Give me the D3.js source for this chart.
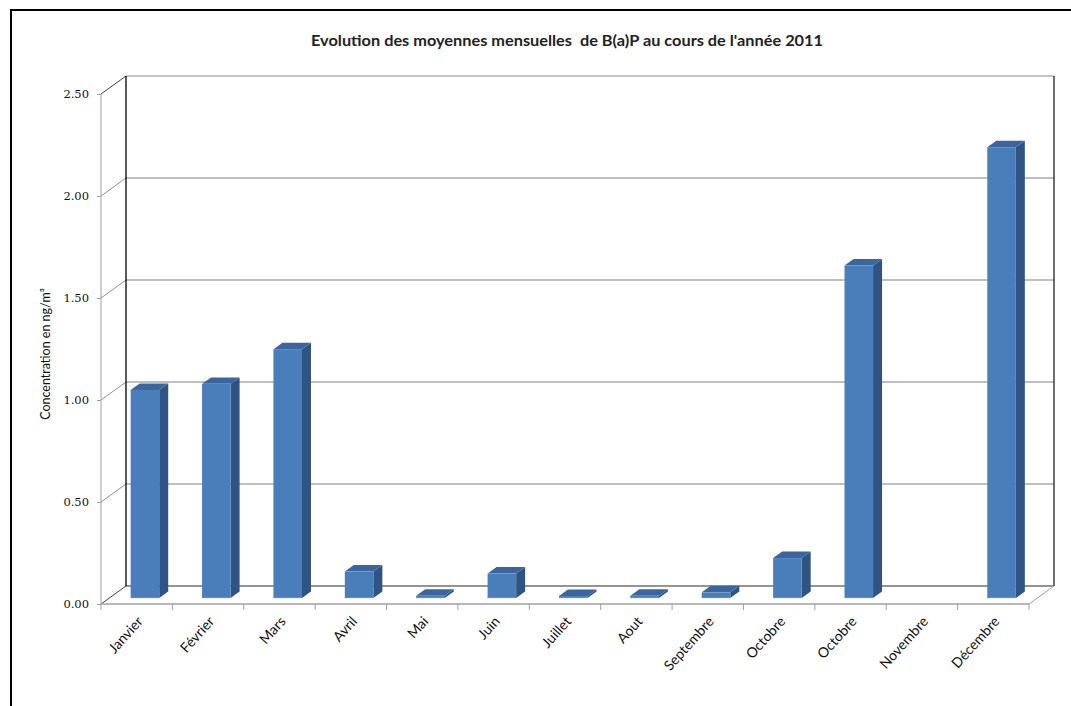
<!DOCTYPE html>
<html>
<head>
<meta charset="utf-8">
<script src="https://cdn.jsdelivr.net/npm/d3@7"></script>
<style>
  body { margin: 0; background: #fff; }
  svg { display: block; }
</style>
</head>
<body>
<svg id="chart" width="1071" height="706"></svg>
<script>
// ---- data ----
const categories = ["Janvier", "Février", "Mars", "Avril", "Mai", "Juin", "Juillet", "Aout", "Septembre", "Octobre", "Octobre", "Novembre", "Décembre"];
const values = [1.02, 1.05, 1.22, 0.13, 0.011, 0.12, 0.01, 0.011, 0.028, 0.196, 1.63, null, 2.21];
const yTicks = [0, 0.5, 1.0, 1.5, 2.0, 2.5];
const titleText = "Evolution des moyennes mensuelles  de B(a)P au cours de l'année 2011";
const yTitle = "Concentration en ng/m³";

// ---- layout ----
const svg = d3.select("#chart");
const X0 = 101, X1 = 1029;       // front floor edge
const DX = 25, DY = -18;          // depth offset to back wall
const x = d3.scaleBand().domain(d3.range(categories.length)).range([X0, X1]).paddingInner(0).paddingOuter(0);
const y = d3.scaleLinear().domain([0, 2.5]).range([604, 94]);

// outer frame
svg.append("rect").attr("x", 11).attr("y", 10).attr("width", 1200).attr("height", 900)
  .attr("fill", "none").attr("stroke", "#000").attr("stroke-width", 2);

// title
svg.append("text").attr("x", 567).attr("y", 46).attr("text-anchor", "middle")
  .attr("font-family", "Lato, 'Open Sans', sans-serif").attr("font-size", 15.5).attr("font-weight", "bold")
  .attr("textLength", 512).attr("lengthAdjust", "spacingAndGlyphs")
  .attr("fill", "#222").style("white-space", "pre").text(titleText);

// back wall gridlines
const g = svg.append("g");
yTicks.forEach(t => {
  const yy = y(t);
  g.append("line").attr("x1", X0).attr("y1", yy).attr("x2", X0 + DX).attr("y2", yy + DY)
    .attr("stroke", t === 2.5 || t === 0 ? "#404040" : "#909090").attr("stroke-width", 1);
  if (t > 0) {
    g.append("line").attr("x1", X0 + DX).attr("y1", yy + DY).attr("x2", X1 + DX).attr("y2", yy + DY)
      .attr("stroke", t === 2.5 ? "#8a8a8a" : "#808080").attr("stroke-width", 1);
  }
});
g.append("line").attr("x1", X0 + DX).attr("y1", y(0) + DY).attr("x2", X1 + DX).attr("y2", y(0) + DY)
  .attr("stroke", "#707070").attr("stroke-width", 1.3);
g.append("line").attr("x1", X0 + DX).attr("y1", y(0) + DY).attr("x2", X0 + DX).attr("y2", y(2.5) + DY)
  .attr("stroke", "#000").attr("stroke-width", 1.3);
g.append("line").attr("x1", X1 + DX).attr("y1", y(0) + DY).attr("x2", X1 + DX).attr("y2", y(2.5) + DY)
  .attr("stroke", "#222").attr("stroke-width", 1.3);
g.append("line").attr("x1", X1).attr("y1", y(0)).attr("x2", X1 + DX).attr("y2", y(0) + DY)
  .attr("stroke", "#a0a0a0").attr("stroke-width", 1);
g.append("line").attr("x1", X0).attr("y1", y(0)).attr("x2", X0).attr("y2", y(2.5))
  .attr("stroke", "#a0a0a0").attr("stroke-width", 1);

// y axis ticks & labels
const yAxis = d3.axisLeft(y).tickValues(yTicks).tickFormat(d3.format(".2f")).tickSize(4).tickPadding(8);
const ya = svg.append("g").attr("transform", `translate(${X0},0)`).call(yAxis);
ya.select(".domain").remove();
ya.selectAll(".tick line").attr("stroke", "#a0a0a0");
ya.selectAll(".tick text").attr("font-family", "'DejaVu Serif', serif").attr("font-size", 11.5).attr("fill", "#111");

// y title
svg.append("text").attr("transform", "translate(50,354) rotate(-90)").attr("text-anchor", "middle")
  .attr("font-family", "Lato, 'Open Sans', sans-serif").attr("font-size", 12.5).attr("fill", "#111")
  .text(yTitle);

// bars
const d0 = 0.33, d1 = 0.69;
const bw = x.bandwidth() * 0.4;
const bars = svg.append("g");
values.forEach((v, i) => {
  if (v === null) return;
  const cx = x(i) + x.bandwidth() / 2;
  const fx = cx - bw / 2 + DX * d0, fy0 = y(0) + DY * d0, fyt = y(v) + DY * d0;
  const ox = DX * (d1 - d0), oy = DY * (d1 - d0);
  bars.append("path").attr("d", `M${fx + bw},${fy0} L${fx + bw + ox},${fy0 + oy} L${fx + bw + ox},${fyt + oy} L${fx + bw},${fyt} Z`)
    .attr("fill", "#2f5484");
  bars.append("path").attr("d", `M${fx},${fyt} L${fx + ox},${fyt + oy} L${fx + bw + ox},${fyt + oy} L${fx + bw},${fyt} Z`)
    .attr("fill", "#3b669d");
  bars.append("rect").attr("x", fx).attr("y", fyt).attr("width", bw).attr("height", Math.max(0, fy0 - fyt))
    .attr("fill", "#4a7ebb");
  bars.append("line").attr("x1", fx).attr("x2", fx + bw).attr("y1", fy0 - 0.5).attr("y2", fy0 - 0.5)
    .attr("stroke", "#5b8fd0").attr("stroke-width", 1);
});

// front floor edge & x ticks
const xa = svg.append("g");
xa.append("line").attr("x1", X0).attr("y1", y(0)).attr("x2", X1).attr("y2", y(0))
  .attr("stroke", "#a0a0a0").attr("stroke-width", 1.3);
d3.range(categories.length + 1).forEach(i => {
  const xx = i < categories.length ? x(i) : X1;
  xa.append("line").attr("x1", xx).attr("x2", xx).attr("y1", y(0)).attr("y2", y(0) + 6)
    .attr("stroke", "#a0a0a0").attr("stroke-width", 1);
});
categories.forEach((c, i) => {
  const cx = x(i) + x.bandwidth() / 2;
  xa.append("text").attr("transform", `translate(${cx + 7},${y(0) + 18}) rotate(-48)`)
    .attr("text-anchor", "end")
    .attr("font-family", "Lato, 'Open Sans', sans-serif").attr("font-size", 14).attr("fill", "#111")
    .text(c);
});
</script>
</body>
</html>
